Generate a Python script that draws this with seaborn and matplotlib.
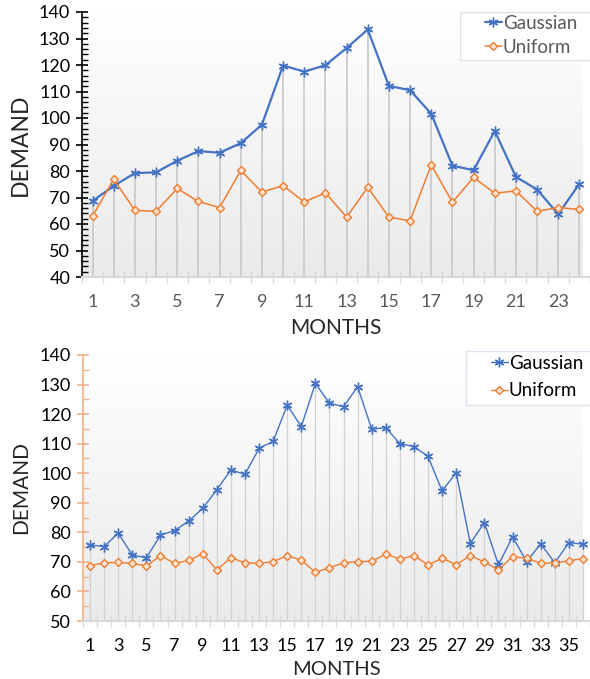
"""
Demand per month: Gaussian vs Uniform demand, two horizons (24 and 36 months)
"""

import numpy as np
import matplotlib.pyplot as plt
from matplotlib.patches import Rectangle
import seaborn as sns

# Top chart: 24 months
months_24 = list(range(1, 25))
gauss_24 = [68.7, 74.4, 79.2, 79.5, 83.9, 87.5, 86.9, 90.5, 97.5, 119.8,
            117.5, 119.9, 126.4, 133.4, 112.1, 110.5, 101.6, 82.0, 80.3, 95.1,
            77.8, 73.0, 63.7, 75.2]
unif_24 = [63.0, 76.9, 65.1, 64.8, 73.4, 68.5, 66.2, 80.2, 72.0, 74.5,
           68.3, 71.8, 62.6, 73.8, 62.6, 61.2, 82.3, 68.2, 77.6, 71.6,
           72.5, 64.8, 66.2, 65.5]

# Bottom chart: 36 months
months_36 = list(range(1, 37))
gauss_36 = [75.7, 75.2, 79.7, 72.3, 71.4, 79.0, 80.6, 83.8, 88.1, 94.4,
            101.1, 99.6, 108.4, 110.8, 123.0, 115.8, 130.4, 123.7, 122.5, 129.3,
            114.9, 115.4, 110.0, 109.0, 105.7, 94.0, 100.2, 76.2, 83.3, 69.0,
            78.5, 70.1, 76.1, 69.7, 76.5, 76.0]
unif_36 = [68.7, 69.7, 69.8, 69.5, 68.6, 72.1, 69.5, 70.5, 72.7, 67.3,
           71.4, 69.7, 69.5, 70.1, 72.1, 70.6, 66.5, 68.0, 69.7, 70.1,
           70.2, 72.6, 71.0, 72.1, 69.0, 71.2, 69.1, 72.1, 70.0, 67.3,
           71.8, 71.2, 69.6, 69.6, 70.4, 71.1]

BLUE = '#4472C4'
ORANGE = '#ED7D31'

sns.set_style("white")
plt.rcParams['font.family'] = ['Lato', 'DejaVu Sans']

W, H = 590, 679
fig = plt.figure(figsize=(W / 100, H / 100), dpi=100)
ax1 = fig.add_axes([82 / W, 1 - 277 / H, 508 / W, 265 / H])
ax2 = fig.add_axes([83 / W, 1 - 621 / H, 507 / W, 266 / H])

star = (6, 2, 0)


def gradient(ax, ylo, yhi, xlo, xhi):
    grad = np.linspace(0, 1, 256).reshape(-1, 1)
    cmap = sns.blend_palette(['#eaeaea', '#ffffff'], as_cmap=True)
    ax.imshow(grad, extent=[xlo, xhi, ylo, yhi], origin='lower', aspect='auto',
              cmap=cmap, zorder=0)


def draw(ax, months, gauss, unif, ylo, yhi, xhi, ystep, yminor, axis_color,
         xtick_color, g_lw, u_lw, drop_lw, drop_color, label_size):
    gradient(ax, ylo, yhi, 0.5, xhi)
    tops = np.maximum(gauss, unif)
    ax.vlines(months, ylo, tops, color=drop_color, lw=drop_lw, zorder=1)
    sns.lineplot(x=months, y=gauss, ax=ax, color=BLUE, lw=g_lw, marker=star,
                 markersize=7, markeredgecolor=BLUE, markeredgewidth=1.0,
                 label='Gaussian', zorder=3)
    sns.lineplot(x=months, y=unif, ax=ax, color=ORANGE, lw=u_lw, marker='D',
                 markersize=4.5, markerfacecolor='#fde3cf', markeredgecolor=ORANGE,
                 markeredgewidth=1.0, label='Uniform', zorder=3)

    ax.set_xlim(0.5, xhi)
    ax.set_ylim(ylo, yhi)
    ax.set_yticks(np.arange(ylo, yhi + 1, ystep))
    ax.set_yticks(np.arange(ylo, yhi + 1, yminor), minor=True)
    ax.set_xticks(months[::2])
    ax.set_xticks(np.arange(0.5, months[-1] + 1, 1), minor=True)

    for s in ['top', 'right']:
        ax.spines[s].set_visible(False)
    ax.spines['left'].set_color(axis_color)
    ax.spines['left'].set_linewidth(1.2)
    ax.spines['bottom'].set_color('#d9d9d9')
    ax.spines['bottom'].set_linewidth(1.5)

    ax.tick_params(axis='y', which='major', direction='inout', length=9,
                   width=1.2, color=axis_color, labelsize=label_size,
                   labelcolor='black', pad=4, left=True)
    ax.tick_params(axis='y', which='minor', direction='in', length=4,
                   width=1, color=axis_color, left=True)
    ax.tick_params(axis='x', which='major', length=0, labelsize=label_size,
                   labelcolor=xtick_color, pad=12, bottom=True)
    ax.tick_params(axis='x', which='minor', direction='inout', length=8,
                   width=1, color='#d9d9d9', bottom=True)


def legend(ax, x0, y0, y1, text_top, text_color, spacing):
    # legend frame runs off the right edge of the picture, as in the source
    box = Rectangle((x0 / W, 1 - y1 / H), (W + 10 - x0) / W, (y1 - y0) / H,
                    transform=fig.transFigure, facecolor='white',
                    edgecolor='#dde3ee', lw=1.0, zorder=5, clip_on=False)
    ax.add_patch(box)
    leg = ax.legend(loc='upper left',
                    bbox_to_anchor=((x0 + 25) / W, 1 - text_top / H),
                    bbox_transform=fig.transFigure, fontsize=13.5, frameon=False,
                    handlelength=0.9, handletextpad=0.05, borderpad=0.0,
                    labelspacing=spacing, labelcolor=text_color,
                    borderaxespad=0)
    leg.set_zorder(6)
    return leg


draw(ax1, months_24, gauss_24, unif_24, 40, 140, 24.13, 10, 2, 'black',
     '#595959', 1.6, 1.1, 1.2, '#c8c8c8', 13)
draw(ax2, months_36, gauss_36, unif_36, 50, 140, 35.98, 10, 5, '#F4B183',
     'black', 1.0, 1.0, 0.9, '#d2d2d2', 13)

ax1.set_xlabel('MONTHS', fontsize=15, labelpad=6)
ax1.set_ylabel('DEMAND', fontsize=16.5, labelpad=6)
ax2.set_xlabel('MONTHS', fontsize=14.5, labelpad=5)
ax2.set_ylabel('DEMAND', fontsize=15, labelpad=6)

legend(ax1, 460, 12, 60, 15, '#595959', 0.35)
legend(ax2, 466, 351, 405, 355, 'black', 0.55)

fig.savefig('out.png', dpi=100)
